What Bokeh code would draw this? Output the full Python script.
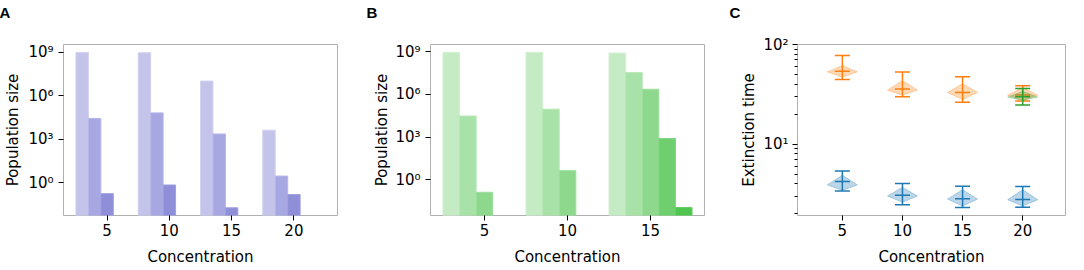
import numpy as np
from bokeh.plotting import figure
from bokeh.layouts import row
from bokeh.models import Range1d, FixedTicker
from bokeh.embed import file_html
from bokeh.resources import INLINE

# ---------------- data ----------------
# Panel A: population size per concentration, three successive bars
conc_A = [5, 10, 15, 20]
A_pop_1 = [9.5e8, 8.9e8, 1.0e7, 4.2e3]
A_pop_2 = [2.7e4, 6.5e4, 2.3e3, 2.9]
A_pop_3 = [0.18, 0.71, 0.019, 0.155]

# Panel B
conc_B = [5, 10, 15]
B_pop_1 = [9.1e8, 9.1e8, 8.1e8]
B_pop_2 = [3.0e4, 9.1e4, 3.4e7]
B_pop_3 = [0.13, 4.3, 2.3e6]
B_pop_4 = [None, None, 790.0]
B_pop_5 = [None, None, 0.011]

# Panel C: extinction time violins (min / median / max, body low / peak / high)
conc_C = [5, 10, 15, 20]
blue_min = [3.39, 2.47, 2.32, 2.34]
blue_med = [4.24, 3.08, 2.84, 2.80]
blue_max = [5.40, 4.05, 3.79, 3.77]
blue_lo = [3.45, 2.62, 2.40, 2.40]
blue_peak = [3.91, 3.03, 2.82, 2.78]
blue_hi = [4.90, 3.70, 3.50, 3.50]

orange_min = [44.5, 29.9, 26.4, 27.2]
orange_med = [54.0, 35.7, 33.0, 31.1]
orange_max = [77.6, 52.9, 47.6, 38.5]
orange_lo = [47.0, 31.0, 28.0, 27.6]
orange_peak = [53.2, 34.9, 33.0, 31.0]
orange_hi = [61.5, 43.5, 40.5, 37.1]

conc_G = [20]
green_min = [24.7]
green_med = [30.0]
green_max = [36.2]
green_lo = [27.5]
green_peak = [29.7]
green_hi = [33.9]

x_ticks_A = [5, 10, 15, 20]
x_ticks_B = [5, 10, 15]
x_ticks_C = [5, 10, 15, 20]
pop_ticks = [1, 1000, 1000000, 1000000000]
pop_labels = {1: "10\u2070", 1000: "10\u00b3", 1000000: "10\u2076", 1000000000: "10\u2079"}
time_ticks = [10, 100]
time_labels = {10: "10\u00b9", 100: "10\u00b2"}

FONT = "DejaVu Sans"
H = 268
TOP = 44
BOTTOM = 46


def style(p, xticks, yticks, ylabel, overrides, minor=None, ystand=5, lstand=5):
    p.xaxis.ticker = FixedTicker(ticks=xticks)
    p.yaxis.ticker = FixedTicker(ticks=yticks, minor_ticks=minor or [])
    p.yaxis.major_label_overrides = overrides
    p.xaxis.axis_label = "Concentration"
    p.yaxis.axis_label = ylabel
    for ax in (p.xaxis[0], p.yaxis[0]):
        ax.axis_line_color = None
        ax.major_tick_line_color = "black"
        ax.minor_tick_line_color = "black"
        ax.major_tick_line_width = 1
        ax.minor_tick_line_width = 1
        ax.major_tick_out = 5
        ax.major_tick_in = 0
        ax.minor_tick_out = 3
        ax.minor_tick_in = 0
        ax.major_label_text_font = FONT
        ax.major_label_text_font_size = "15px"
        ax.major_label_text_color = "black"
        ax.axis_label_text_font = FONT
        ax.axis_label_text_font_size = "15px"
        ax.axis_label_text_font_style = "normal"
        ax.axis_label_text_color = "black"
    p.xaxis.major_label_standoff = 3
    p.xaxis.axis_label_standoff = 9
    p.yaxis.major_label_standoff = ystand
    p.yaxis.axis_label_standoff = lstand
    p.grid.visible = False
    p.outline_line_color = "#b0b0b0"
    p.outline_line_width = 1
    p.background_fill_color = "white"
    p.border_fill_color = "white"


def make_fig(width, left, right, xr, yr, letter, letter_dx):
    p = figure(width=width, height=H, x_range=Range1d(*xr), y_range=Range1d(*yr),
               y_axis_type="log", output_backend="svg", toolbar_location=None,
               min_border_left=left, min_border_right=right,
               min_border_top=TOP, min_border_bottom=BOTTOM, title=letter + "\n")
    p.title.align = "left"
    p.title.offset = letter_dx
    p.title.standoff = 2
    p.title.text_line_height = 1.3
    p.title.text_font = "Liberation Sans"
    p.title.text_font_style = "bold"
    p.title.text_font_size = "15px"
    p.title.text_color = "black"
    return p


def bars(p, conc, series, fills, edges):
    for k, (vals, fc, ec) in enumerate(zip(series, fills, edges)):
        xs = [c - 2 + k for c, v in zip(conc, vals) if v is not None]
        ts = [v for v in vals if v is not None]
        p.vbar(x=xs, top=ts, bottom=1e-6, width=1, fill_color=fc, line_color=ec, line_width=1)


# ---------------- Panel A ----------------
pA = make_fig(362, 63, 25, (1.5, 23.5), (10 ** -2.25, 10 ** 9.52), "A", -64)
bars(pA, conc_A, [A_pop_1, A_pop_2, A_pop_3],
     ["#c4c4eb", "#a7a7e2", "#8e8ed9"], ["#d2d2f1", "#b6b6e8", "#a0a0e0"])
style(pA, x_ticks_A, pop_ticks, "Population size", pop_labels, ystand=5, lstand=3)

# ---------------- Panel B ----------------
pB = make_fig(365, 68, 23, (1.75, 18.25), (10 ** -2.52, 10 ** 9.51), "B", -64)
bars(pB, conc_B, [B_pop_1, B_pop_2, B_pop_3, B_pop_4, B_pop_5],
     ["#c5ebc5", "#a8e2a8", "#8dd88d", "#6fcf6f", "#50c650"],
     ["#d2f0d2", "#b6e8b6", "#9cdf9c", "#80d680", "#66ce66"])
style(pB, x_ticks_B, pop_ticks, "Population size", pop_labels, ystand=5, lstand=1)

# ---------------- Panel C ----------------
pC = make_fig(339, 70, 1, (1.27, 23.56), (1.93, 100), "C", -68)
HW = 1.25
CAP = 0.625


def violin(p, conc, vmin, vmed, vmax, lo, pk, hi, color):
    xs_all, ys_all = [], []
    for c, a, b, d in zip(conc, lo, pk, hi):
        la, lb, ld = np.log10([a, b, d])
        t = np.concatenate([np.linspace(la, lb, 14), np.linspace(lb, ld, 14)[1:]])
        u = np.where(t < lb, (lb - t) / (lb - la), (t - lb) / (ld - lb))
        w = HW * (1 - u) ** 1.0
        xs_all.append(list(np.concatenate([c - w, (c + w)[::-1]])))
        ys_all.append(list(10 ** np.concatenate([t, t[::-1]])))
    p.patches(xs_all, ys_all, fill_color=color, fill_alpha=0.3, line_color=color, line_alpha=0.3, line_width=1)
    p.segment(x0=conc, y0=vmin, x1=conc, y1=vmax, line_color=color, line_width=1.5)
    for arr in (vmin, vmed, vmax):
        p.segment(x0=[c - CAP for c in conc], y0=arr, x1=[c + CAP for c in conc], y1=arr,
                  line_color=color, line_width=1.5)


violin(pC, conc_C, blue_min, blue_med, blue_max, blue_lo, blue_peak, blue_hi, "#1f77b4")
violin(pC, conc_C, orange_min, orange_med, orange_max, orange_lo, orange_peak, orange_hi, "#ff7f0e")
violin(pC, conc_G, green_min, green_med, green_max, green_lo, green_peak, green_hi, "#2ca02c")
minor_C = [2, 3, 4, 5, 6, 7, 8, 9, 20, 30, 40, 50, 60, 70, 80, 90]
style(pC, x_ticks_C, time_ticks, "Extinction time", time_labels, minor=minor_C, ystand=4, lstand=2)

layout = row(pA, pB, pC)
open("out.html", "w").write(file_html(layout, INLINE))
